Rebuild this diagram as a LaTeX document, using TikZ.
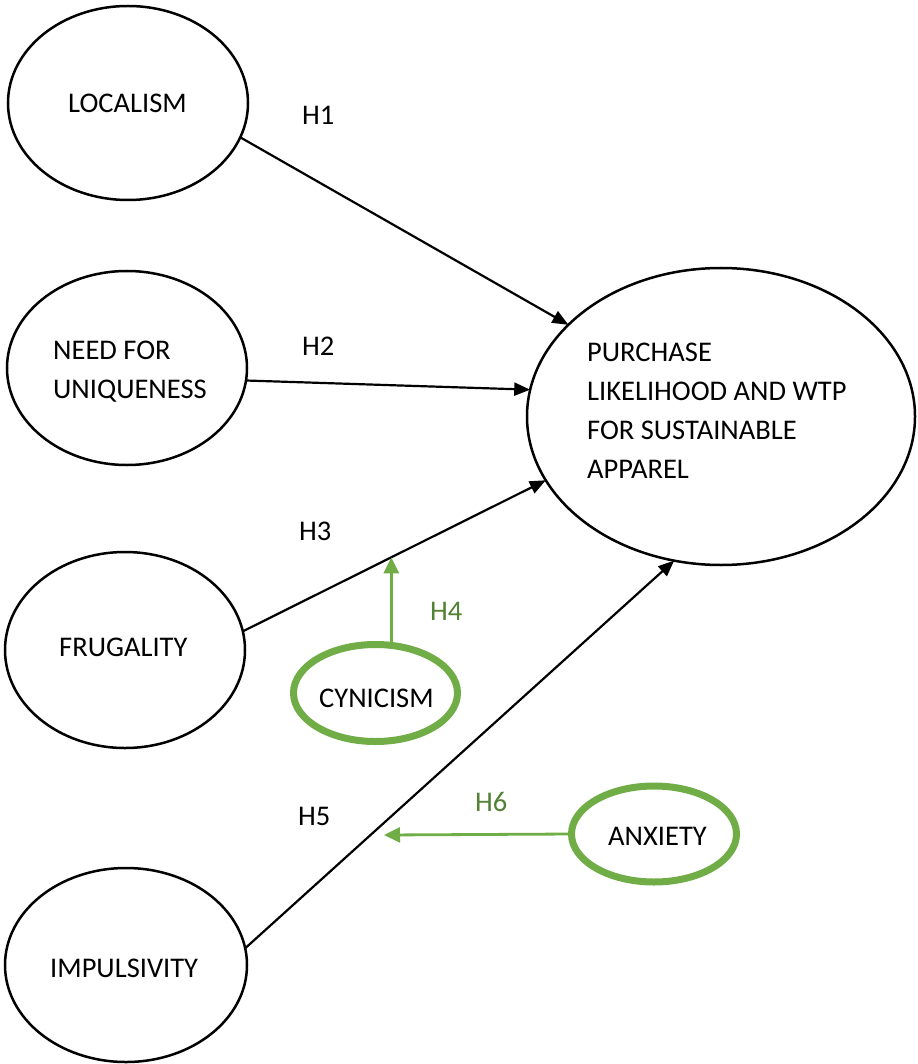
\documentclass[tikz,border=0pt]{standalone}
\usepackage{fontspec}
\setmainfont{Carlito}
\usetikzlibrary{shapes.geometric,arrows.meta}
\definecolor{grn}{HTML}{70AD47}
\definecolor{grntxt}{HTML}{538135}
\begin{document}
\begin{tikzpicture}[x=1pt,y=-1pt,
  latent/.style={draw=black,line width=2.5pt,ellipse,inner sep=0pt,outer sep=0pt},
  moder/.style={draw=grn,line width=7pt,ellipse,inner sep=0pt,outer sep=0pt},
  lbl/.style={anchor=base west,inner sep=0pt,font=\fontsize{28.5}{38.8}\selectfont,align=left},
  hyp/.style={lbl},
  hypg/.style={lbl,text=grntxt},
  mainpath/.style={draw=black,line width=2.2pt,-{Triangle[length=16pt,width=13pt]}},
  modpath/.style={draw=grn,line width=2.8pt,-{Triangle[length=16pt,width=15pt]}}]
\useasboundingbox (0,0) rectangle (917,1064);
\fill[white] (0,0) rectangle (917,1064);

% ellipses
\node[latent,minimum width=240pt,minimum height=194pt] (loc) at (128,103) {};
\node[latent,minimum width=240pt,minimum height=194pt] (nfu) at (127,368) {};
\node[latent,minimum width=240pt,minimum height=196pt] (fru) at (125,650) {};
\node[latent,minimum width=242pt,minimum height=194pt] (imp) at (126,965) {};
\node[latent,minimum width=388pt,minimum height=297pt] (pur) at (721,416.5) {};
\node[moder,minimum width=164pt,minimum height=97pt] (cyn) at (375.5,693) {};
\node[moder,minimum width=165pt,minimum height=96pt] (anx) at (654,834) {};

% texts (base = last line for multi-line nodes)
\node[lbl] (tloc) at (68,113) {LOCALISM};
\node[lbl] (tnfu) at (53,398) {NEED FOR\\UNIQUENESS};
\node[lbl] (tfru) at (59,656) {FRUGALITY};
\node[lbl] (timp) at (50,977) {IMPULSIVITY};
\node[lbl] (tpur) at (587,478) {PURCHASE\\LIKELIHOOD AND WTP\\FOR SUSTAINABLE\\APPAREL};
\node[lbl] (tcyn) at (319,707) {CYNICISM};
\node[lbl] (tanx) at (608,845) {ANXIETY};

% hypothesis labels
\node[hyp] (h1) at (302,125) {H1};
\node[hyp] (h2) at (302,355) {H2};
\node[hyp] (h3) at (299,540) {H3};
\node[hypg] (h4) at (430,620) {H4};
\node[hyp] (h5) at (298,825) {H5};
\node[hypg] (h6) at (475,811) {H6};

% main paths
\draw[mainpath] (loc.-17.8) -- (pur.149.6);
\draw[mainpath] (nfu.-6.6) -- (pur.172.0);
\draw[mainpath] (fru.9.5) -- coordinate[pos=0.49] (h3mid) (pur.-160.7);
\draw[mainpath] (imp.8.3) -- (pur.-108.4);

% moderation paths
\coordinate (h6end) at (384,835);
\draw[modpath] (cyn.north -| h3mid) -- (h3mid);
\draw[modpath] (anx.west) -- (h6end);
\end{tikzpicture}
\end{document}
